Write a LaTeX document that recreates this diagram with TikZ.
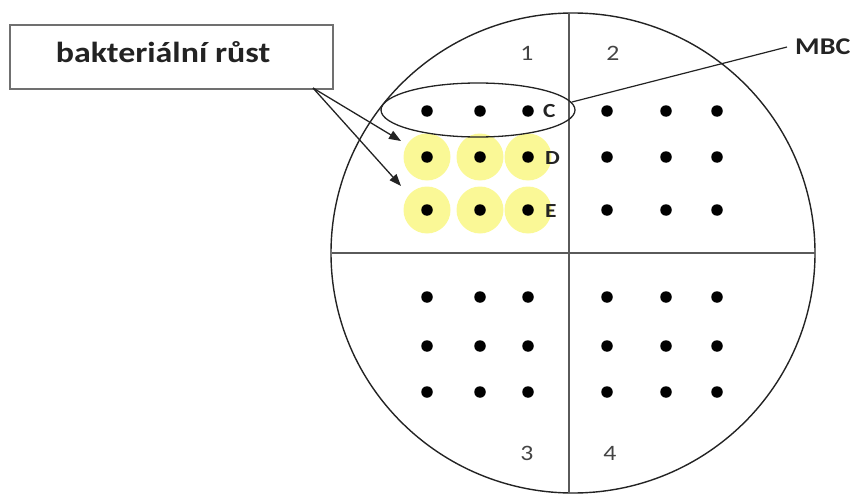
\documentclass[tikz,border=0pt]{standalone}
\usepackage{fontspec}
\setmainfont{Carlito}
\newfontfamily\widefont[FakeStretch=1.17]{Carlito}
\usetikzlibrary{arrows.meta,shapes.geometric}
\definecolor{halo}{RGB}{250,248,150}
\definecolor{ink}{RGB}{35,35,35}
\tikzset{
  plate/.style={draw=ink, line width=1.4pt},
  divider/.style={draw=ink!75, line width=1.8pt},
  colony/.style={circle, fill=black, inner sep=0pt, minimum size=11.5pt},
  growth/.style={circle, fill=halo, inner sep=0pt, minimum size=47pt},
  rowlabel/.style={font=\widefont\bfseries\fontsize{20}{20}\selectfont, text=ink, anchor=west, inner sep=0pt},
  quadlabel/.style={font=\widefont\fontsize{22}{22}\selectfont, text=ink!85, inner sep=0pt},
  callout/.style={draw=ink!65, line width=2.2pt, fill=white},
  pointer/.style={draw=ink, line width=1.3pt, -{Triangle[length=12pt,width=9pt]}},
  leader/.style={draw=ink, line width=1.2pt}
}
\begin{document}
\begin{tikzpicture}[x=1pt,y=-1pt]
\useasboundingbox (0,0) rectangle (857,495);
% halos
\foreach \x in {427,480,528}{
  \foreach \y in {157,210}{
    \node[growth] at (\x,\y) {};
  }
}
% plate
\draw[plate] (573,253) ellipse [x radius=242, y radius=240];
\draw[divider] (569,13) -- (569,493);
\draw[divider] (332,253) -- (815,253);
% colonies
\foreach \x in {427,480,528,607,666,717}{
  \foreach \y in {111,157,210,297,346,392}{
    \node[colony] at (\x,\y) {};
  }
}
% row labels
\node[rowlabel] (C) at (543,111) {C};
\node[rowlabel] (D) at (545,158) {D};
\node[rowlabel] (E) at (545,211) {E};
% quadrant labels
\node[quadlabel] (q1) at (527,53) {1};
\node[quadlabel] (q2) at (613,53) {2};
\node[quadlabel] (q3) at (527,453) {3};
\node[quadlabel] (q4) at (610,453) {4};
% MBC ellipse
\node[draw=ink, line width=1.3pt, ellipse, minimum width=194pt, minimum height=54pt, inner sep=0pt] (mbcring) at (478,110) {};
\node[font=\widefont\bfseries\fontsize{24}{24}\selectfont, text=ink, anchor=west, inner sep=0pt] (mbc) at (795,47) {MBC};
\coordinate (mbcend) at (787,47);
\coordinate (mbcstart) at (572,102);
\draw[leader] (mbcstart) -- (mbcend);
% callout box
\node[callout, minimum width=323pt, minimum height=64pt, anchor=north west] (box) at (9,24) {};
\node[font=\widefont\bfseries\fontsize{29}{29}\selectfont, text=ink, inner sep=0pt] (boxtext) at (163,52) {bakteriální růst};
\coordinate (src) at (313,88);
\coordinate (t1) at (401,141);
\coordinate (t2) at (401,186);
\draw[pointer] (src) -- (t1);
\draw[pointer] (src) -- (t2);
\end{tikzpicture}
\end{document}
